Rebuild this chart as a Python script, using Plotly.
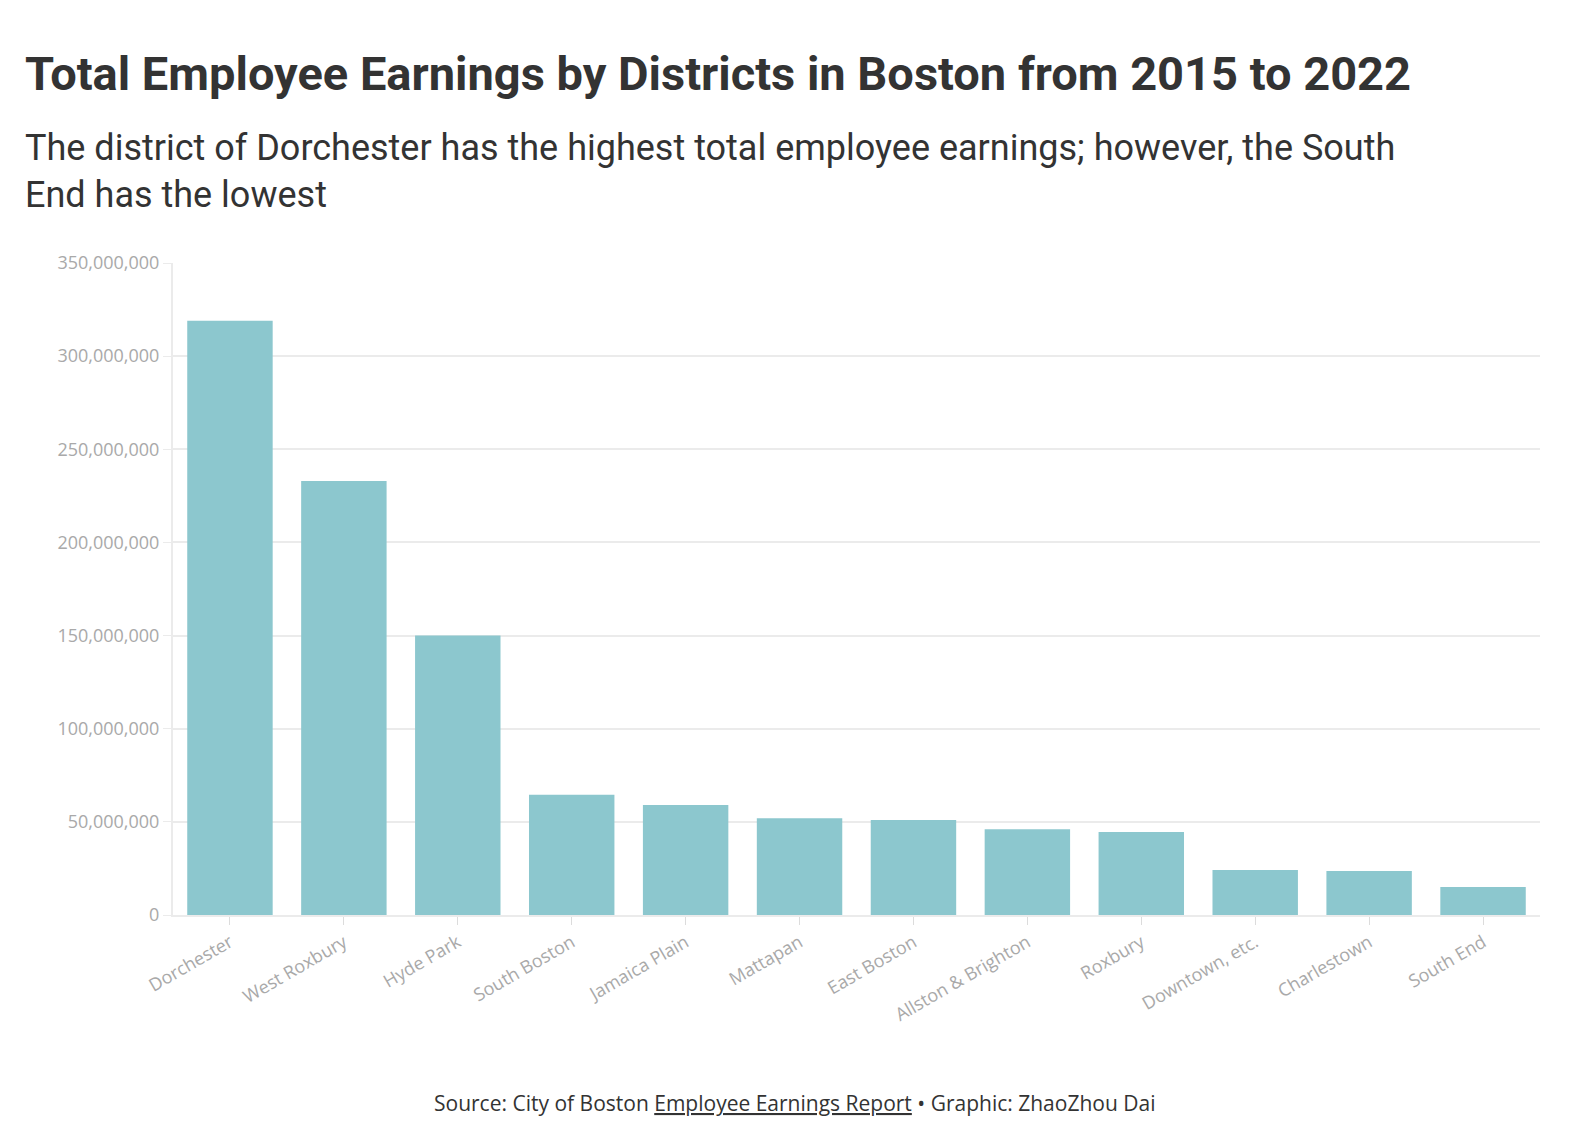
import plotly.graph_objects as go

districts = ["Dorchester", "West Roxbury", "Hyde Park", "South Boston", "Jamaica Plain",
             "Mattapan", "East Boston", "Allston & Brighton", "Roxbury", "Downtown, etc.",
             "Charlestown", "South End"]
earnings = [319000000, 233000000, 150000000, 64500000, 59000000, 52000000,
            51000000, 46000000, 44600000, 24200000, 23600000, 15000000]

grey = "#a9a9a9"

fig = go.Figure(go.Bar(
    x=districts, y=earnings, width=0.75,
    marker=dict(color="#8cc7ce", line_width=0),
))

fig.update_layout(
    width=1592, height=1148,
    paper_bgcolor="white", plot_bgcolor="white",
    margin=dict(l=165, r=60, t=255, b=241),
    font=dict(family="Open Sans", color=grey, size=18),
    showlegend=False,
    bargap=0.25,
)
fig.update_yaxes(
    range=[0, 350000000], dtick=50000000, tickformat=",d",
    gridcolor="#ebebeb", gridwidth=2, showline=True, linecolor="#ebebeb", linewidth=2,
    ticks="outside", ticklen=8, tickcolor="#ebebeb", zeroline=False,
)
fig.update_xaxes(
    tickangle=-30, ticks="outside", ticklen=8, tickcolor="#dcdcdc",
    showline=True, linecolor="#ebebeb", linewidth=2,
)

fig.add_annotation(
    text="<b>Total Employee Earnings by Districts in Boston from 2015 to 2022</b>",
    xref="paper", yref="paper", x=-0.11, y=1.0, yshift=190, xanchor="left", yanchor="middle",
    showarrow=False, font=dict(family="Roboto", size=47, color="#333333"),
)
fig.add_annotation(
    text="The district of Dorchester has the highest total employee earnings; however, the South<br>End has the lowest",
    xref="paper", yref="paper", x=-0.11, y=1.0, yshift=92, xanchor="left", yanchor="middle",
    align="left", showarrow=False, font=dict(family="Roboto", size=36, color="#333333"),
)
fig.add_annotation(
    text="Source: City of Boston <u>Employee Earnings Report</u> • Graphic: ZhaoZhou Dai",
    xref="paper", yref="paper", x=0.455, y=0, yshift=-188, xanchor="center", yanchor="middle",
    showarrow=False, font=dict(family="Open Sans", size=21, color="#333333"),
)

fig.write_html("out.html")
